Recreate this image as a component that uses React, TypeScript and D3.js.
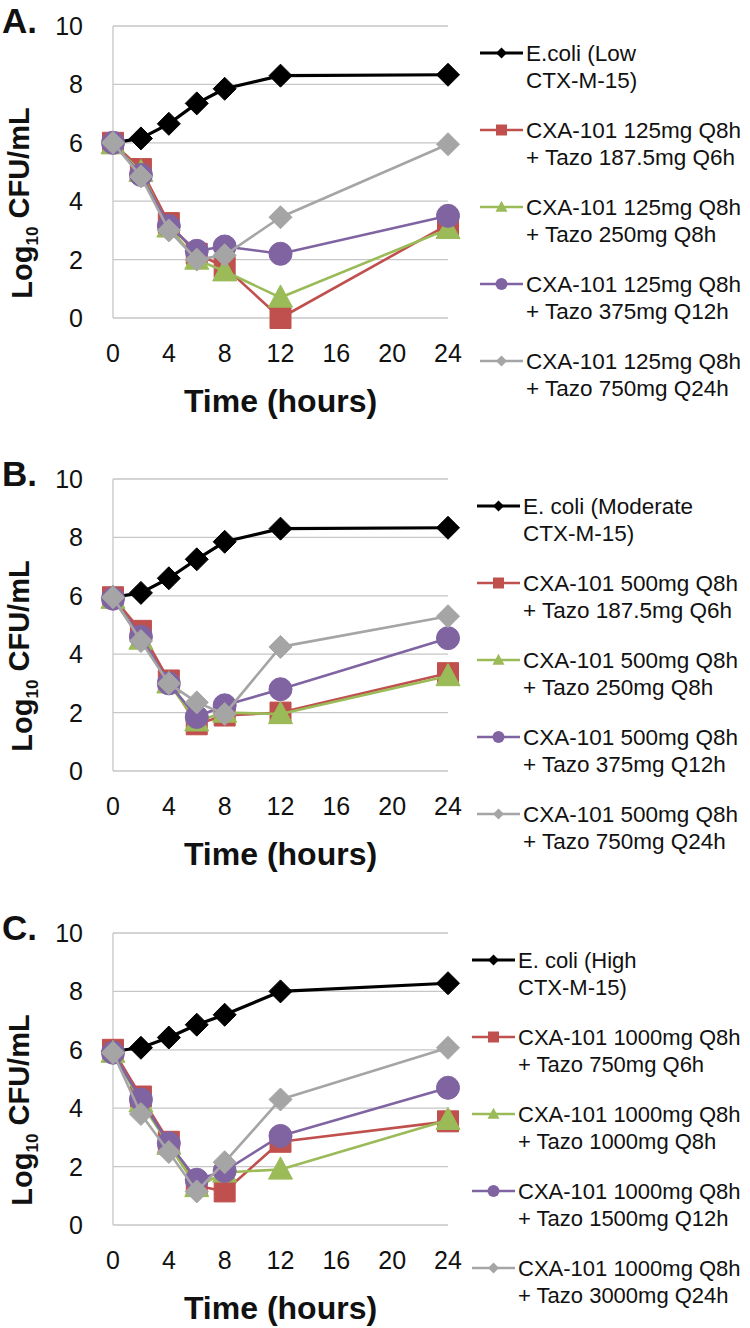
import React from "react";
import * as d3 from "d3";

const timePoints = [0, 2, 4, 6, 8, 12, 24];
const xTicks = [0, 4, 8, 12, 16, 20, 24];
const yTicks = [0, 2, 4, 6, 8, 10];

const panelLabels = ["A.", "B.", "C."];

// Panel A
const aEcoli = [6.0, 6.15, 6.65, 7.35, 7.85, 8.3, 8.33];
const aRed = [6.0, 5.1, 3.25, 2.2, 1.75, 0.0, 3.2];
const aGreen = [5.95, 5.0, 3.1, 2.0, 1.6, 0.7, 3.05];
const aPurple = [6.0, 4.9, 3.15, 2.3, 2.45, 2.2, 3.5];
const aGray = [6.0, 4.85, 3.0, 2.0, 2.15, 3.45, 5.95];

// Panel B
const bEcoli = [5.95, 6.1, 6.6, 7.25, 7.85, 8.3, 8.33];
const bRed = [5.95, 4.8, 3.1, 1.6, 1.9, 2.0, 3.35];
const bGreen = [5.9, 4.5, 3.0, 1.7, 2.0, 1.95, 3.25];
const bPurple = [5.9, 4.6, 3.0, 1.85, 2.25, 2.8, 4.55];
const bGray = [5.95, 4.45, 3.0, 2.35, 1.95, 4.25, 5.3];

// Panel C
const cEcoli = [5.95, 6.07, 6.42, 6.86, 7.2, 8.0, 8.28];
const cRed = [6.0, 4.4, 2.85, 1.35, 1.15, 2.85, 3.55];
const cGreen = [5.9, 4.2, 2.75, 1.3, 1.8, 1.9, 3.6];
const cPurple = [5.9, 4.3, 2.8, 1.55, 1.85, 3.05, 4.7];
const cGray = [5.9, 3.8, 2.5, 1.15, 2.15, 4.3, 6.07];

const aLegend = [
  ["E.coli (Low", "CTX-M-15)"],
  ["CXA-101 125mg Q8h", "+ Tazo 187.5mg Q6h"],
  ["CXA-101 125mg Q8h", "+ Tazo 250mg Q8h"],
  ["CXA-101 125mg Q8h", "+ Tazo 375mg Q12h"],
  ["CXA-101 125mg Q8h", "+ Tazo 750mg Q24h"],
];
const bLegend = [
  ["E. coli (Moderate", "CTX-M-15)"],
  ["CXA-101 500mg Q8h", "+ Tazo 187.5mg Q6h"],
  ["CXA-101 500mg Q8h", "+ Tazo 250mg Q8h"],
  ["CXA-101 500mg Q8h", "+ Tazo 375mg Q12h"],
  ["CXA-101 500mg Q8h", "+ Tazo 750mg Q24h"],
];
const cLegend = [
  ["E. coli (High", "CTX-M-15)"],
  ["CXA-101 1000mg Q8h", "+ Tazo 750mg Q6h"],
  ["CXA-101 1000mg Q8h", "+ Tazo 1000mg Q8h"],
  ["CXA-101 1000mg Q8h", "+ Tazo 1500mg Q12h"],
  ["CXA-101 1000mg Q8h", "+ Tazo 3000mg Q24h"],
];

const seriesColors = ["#000000", "#c0504d", "#9bbb59", "#8064a2", "#a5a5a5"];
const seriesShapes = ["diamond", "square", "triangle", "circle", "diamond"];

const panels = [
  { label: panelLabels[0], series: [aEcoli, aRed, aGreen, aPurple, aGray], legend: aLegend, top: 26, legX: 480, legFont: 22.5 },
  { label: panelLabels[1], series: [bEcoli, bRed, bGreen, bPurple, bGray], legend: bLegend, top: 479, legX: 477, legFont: 22.5 },
  { label: panelLabels[2], series: [cEcoli, cRed, cGreen, cPurple, cGray], legend: cLegend, top: 933, legX: 472, legFont: 22 },
];

const FONT = "'Liberation Sans', Arial, Helvetica, sans-serif";
const GRID = "#c6c6c6";

function markerPath(shape: string, s: number): string {
  const h = s / 2;
  if (shape === "diamond") return `M0,${-h}L${h},0L0,${h}L${-h},0Z`;
  if (shape === "square") return `M${-h},${-h}H${h}V${h}H${-h}Z`;
  if (shape === "triangle") return `M0,${-h * 1.05}L${h},${h * 0.8}L${-h},${h * 0.8}Z`;
  const p = d3.path();
  p.arc(0, 0, h, 0, Math.PI * 2);
  return p.toString();
}

const mainSize: Record<string, number> = { diamond: 23, square: 21, triangle: 24, circle: 23 };
const legSize: Record<string, number> = { diamond: 11, square: 11, triangle: 12, circle: 12 };

function Panel({ p }: { p: typeof panels[number] }) {
  const plotH = 292;
  const x = d3.scaleLinear().domain([0, 24]).range([113, 448]);
  const y = d3.scaleLinear().domain([0, 10]).range([p.top + plotH, p.top]);
  const line = d3
    .line<number>()
    .x((_, i) => x(timePoints[i]))
    .y((d) => y(d));
  const midX = (x(0) + x(24)) / 2;
  return (
    <g>
      {yTicks.map((t) => (
        <line key={"g" + t} x1={x(0)} x2={x(24)} y1={y(t)} y2={y(t)} stroke={GRID} strokeWidth={1.3} />
      ))}
      <line x1={x(0)} x2={x(0)} y1={y(0)} y2={y(10)} stroke={GRID} strokeWidth={1.3} />
      {yTicks.map((t) => (
        <text key={"yt" + t} x={83} y={y(t)} dy="0.36em" textAnchor="end" fontSize={25} fontFamily={FONT} fill="#111">
          {t}
        </text>
      ))}
      {xTicks.map((t) => (
        <text key={"xt" + t} x={x(t)} y={y(0) + 35} dy="0.36em" textAnchor="middle" fontSize={25} fontFamily={FONT} fill="#111">
          {t}
        </text>
      ))}
      <text x={midX} y={y(0) + 82} dy="0.36em" textAnchor="middle" fontSize={32} fontWeight="bold" fontFamily={FONT} fill="#111">
        Time (hours)
      </text>
      <text
        transform={`translate(22,${p.top + 177}) rotate(-90)`}
        dy="0.36em"
        textAnchor="middle"
        fontSize={29}
        fontWeight="bold"
        fontFamily={FONT}
        fill="#111"
      >
        Log
        <tspan fontSize={17} dy="0.3em">10</tspan>
        <tspan dy="-0.3em"> CFU/mL</tspan>
      </text>
      <text x={2} y={p.top + 7} fontSize={35} fontWeight="bold" fontFamily={FONT} fill="#111">
        {p.label}
      </text>
      {p.series.map((vals, si) => (
        <g key={"s" + si}>
          <path d={line(vals) || ""} fill="none" stroke={seriesColors[si]} strokeWidth={si === 0 ? 3.2 : 2.6} strokeLinejoin="round" />
          {vals.map((v, i) => (
            <path
              key={i}
              transform={`translate(${x(timePoints[i])},${y(v)})`}
              d={markerPath(seriesShapes[si], mainSize[seriesShapes[si]])}
              fill={seriesColors[si]}
              stroke={seriesColors[si]}
              strokeWidth={1}
            />
          ))}
        </g>
      ))}
      {p.legend.map((lines, li) => {
        const ly = p.top + 27 + li * 77;
        const shape = seriesShapes[li];
        return (
          <g key={"l" + li}>
            <line x1={p.legX} x2={p.legX + 43} y1={ly} y2={ly} stroke={seriesColors[li]} strokeWidth={li === 0 ? 3 : 2.6} />
            <path
              transform={`translate(${p.legX + 21.5},${ly})`}
              d={markerPath(shape, legSize[shape])}
              fill={seriesColors[li]}
            />
            <text x={p.legX + 46} y={ly} dy="0.36em" fontSize={p.legFont} fontFamily={FONT} fill="#111">
              {lines[0]}
            </text>
            <text x={p.legX + 46} y={ly + 27} dy="0.36em" fontSize={p.legFont} fontFamily={FONT} fill="#111">
              {lines[1]}
            </text>
          </g>
        );
      })}
    </g>
  );
}

export default function App() {
  return (
    <svg
      width={750}
      height={1328}
      viewBox="0 0 750 1328"
      style={{ position: "absolute", left: 0, top: 0, background: "#fff" }}
    >
      <rect width={750} height={1328} fill="#fff" />
      {panels.map((p, i) => (
        <Panel key={i} p={p} />
      ))}
    </svg>
  );
}
